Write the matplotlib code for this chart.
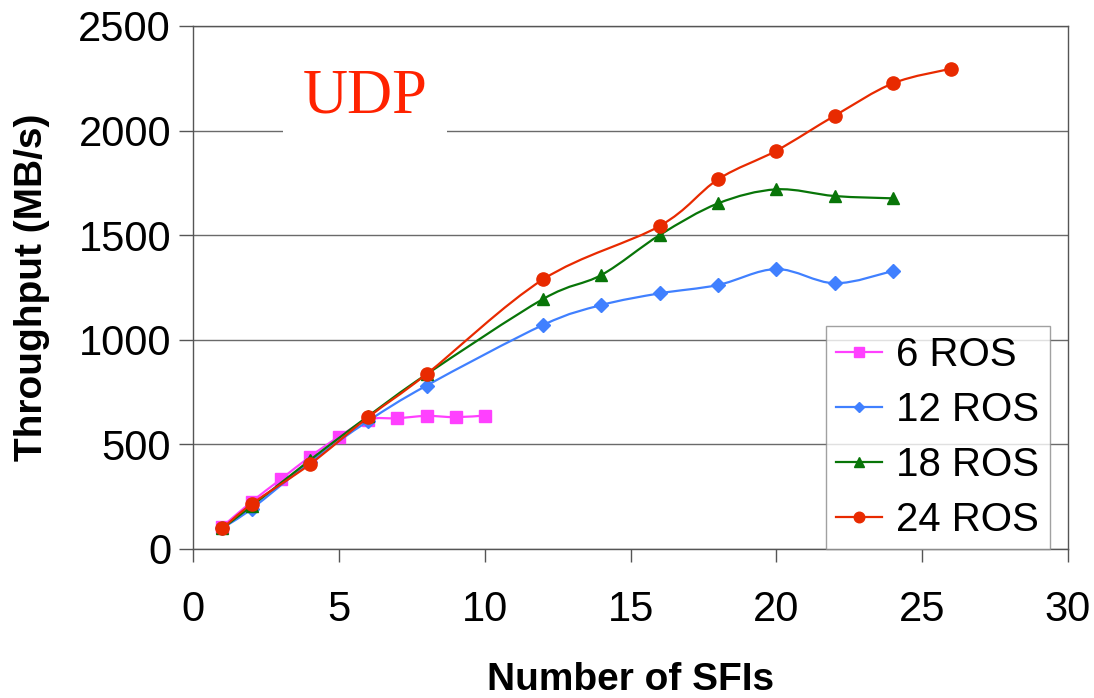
import numpy as np
import matplotlib
matplotlib.use("Agg")
import matplotlib.pyplot as plt
from matplotlib.path import Path
from matplotlib.patches import PathPatch
from matplotlib.lines import Line2D

plt.rcParams['font.family'] = ['Liberation Sans', 'DejaVu Sans']

# Throughput vs number of SFIs, one series per ROS count
sfi_6 = [1, 2, 3, 4, 5, 6, 7, 8, 9, 10]
tp_6 = [107, 226, 333, 441, 537, 618, 625, 636, 630, 638]

sfi_12 = [1, 2, 4, 6, 8, 12, 14, 16, 18, 20, 22, 24]
tp_12 = [100, 192, 415, 612, 781, 1071, 1166, 1222, 1262, 1338, 1270, 1329]

sfi_18 = [1, 2, 4, 6, 8, 12, 14, 16, 18, 20, 22, 24]
tp_18 = [100, 205, 425, 635, 835, 1195, 1310, 1501, 1652, 1719, 1687, 1676]

sfi_24 = [1, 2, 4, 6, 8, 12, 16, 18, 20, 22, 24, 26]
tp_24 = [99, 215, 405, 630, 836, 1289, 1544, 1767, 1904, 2071, 2226, 2296]

labels = ['6 ROS', '12 ROS', '18 ROS', '24 ROS']
colors = ['#ff40ff', '#4080ff', '#087508', '#e82a00']
markers = ['s', 'D', '^', 'o']
msizes = [8.5, 7, 9, 9.5]


def smooth_path(xs, ys):
    # smoothed line (catmull-rom style bezier segments through the points)
    pts = np.column_stack([xs, ys]).astype(float)
    padded = np.vstack([pts[0], pts, pts[-1]])
    verts = [pts[0]]
    codes = [Path.MOVETO]
    for i in range(len(pts) - 1):
        p0, p1, p2, p3 = padded[i], padded[i + 1], padded[i + 2], padded[i + 3]
        verts += [p1 + (p2 - p0) / 6, p2 - (p3 - p1) / 6, p2]
        codes += [Path.CURVE4] * 3
    return Path(verts, codes)


fig = plt.figure(figsize=(10.94, 6.98), dpi=100)
ax = fig.add_axes([0.1767, 0.2135, 0.7995, 0.7493])

series = [(sfi_6, tp_6), (sfi_12, tp_12), (sfi_18, tp_18), (sfi_24, tp_24)]
handles = []
for k, (xs, ys) in enumerate(series):
    z = 4 + k
    ax.add_patch(PathPatch(smooth_path(xs, ys), fill=False, edgecolor=colors[k],
                           lw=1.6, zorder=z))
    ax.plot(xs, ys, ls='none', marker=markers[k], ms=msizes[k], color=colors[k],
            mec=colors[k], zorder=z)
    handles.append(Line2D([], [], color=colors[k], lw=1.6, marker=markers[k],
                          ms=msizes[k] * 0.8, label=labels[k]))

ax.set_xlim(0, 30)
ax.set_ylim(0, 2500)
ax.set_xticks(range(0, 31, 5))
ax.set_yticks(range(0, 2501, 500))
ax.yaxis.grid(True, color='#6a6a6a', lw=1)
ax.set_axisbelow(True)

for sp in ax.spines.values():
    sp.set_color('#555555')
    sp.set_linewidth(1)

ax.tick_params(axis='x', direction='out', length=9.5, width=1, color='#555555',
               labelsize=30, pad=20)
ax.tick_params(axis='y', direction='out', length=10, width=1, color='#555555',
               labelsize=30, pad=6)

ax.set_xlabel('Number of SFIs', fontsize=28, fontweight='bold')
ax.xaxis.set_label_coords(0.5, -0.2505)
ax.xaxis.label.set_va('center')
ax.set_ylabel('Throughput (MB/s)', fontsize=28, fontweight='bold')
ax.yaxis.set_label_coords(-0.184, 0.5)
ax.yaxis.label.set_va('center')

ax.text(0.1963, 0.8337, 'UDP', transform=ax.transAxes, ha='center', va='baseline',
        fontsize=45, color='#ff2200', family='Liberation Serif', zorder=3,
        bbox=dict(facecolor='white', edgecolor='none', pad=14))

leg = ax.legend(handles=handles, loc='lower left', bbox_to_anchor=(0.7233, 0.0),
                fontsize=29, frameon=True, fancybox=False, handlelength=1.15,
                handletextpad=0.35, labelspacing=0.42, borderpad=0.25,
                borderaxespad=0)
leg.get_frame().set_edgecolor('#8a8a8a')
leg.get_frame().set_linewidth(1)
leg.set_zorder(10)

fig.savefig('out.png', dpi=100)
